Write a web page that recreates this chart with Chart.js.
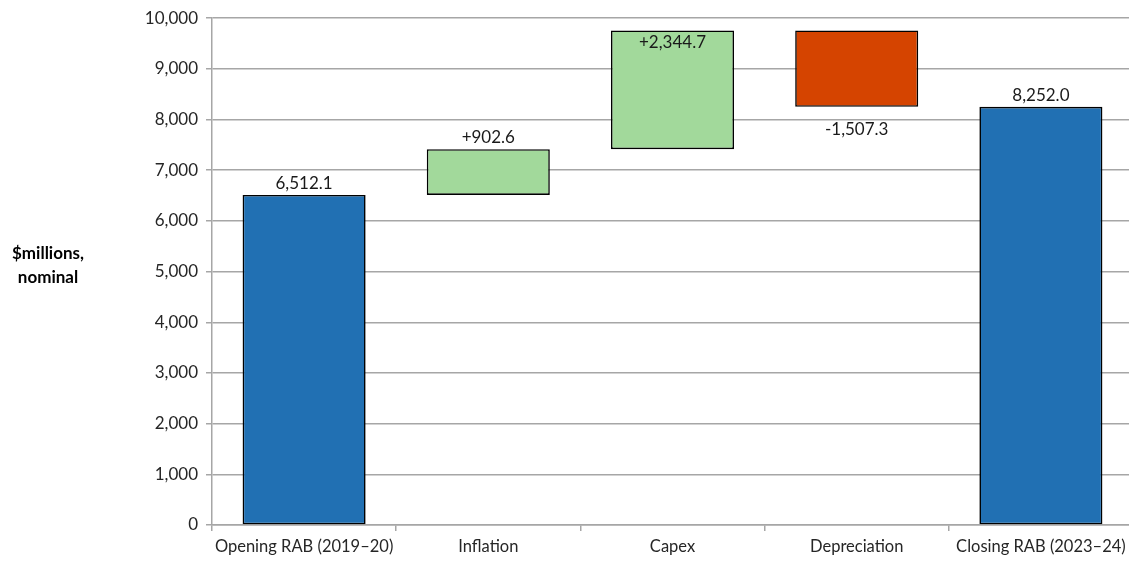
<!DOCTYPE html>
<html>
<head>
<meta charset="utf-8">
<script src="https://cdn.jsdelivr.net/npm/chart.js@4.4.1/dist/chart.umd.min.js"></script>
<style>
html,body{margin:0;padding:0;background:#fff;overflow:hidden;}
#wrap{width:1129px;height:561px;position:relative;overflow:hidden;}
</style>
</head>
<body>
<div id="wrap"><canvas id="c" width="1133" height="561"></canvas></div>
<script>
const categories = ['Opening RAB (2019\u201320)', 'Inflation', 'Capex', 'Depreciation', 'Closing RAB (2023\u201324)'];
const values = [6512.1, 902.6, 2344.7, -1507.3, 8252.0];
const kinds = ['total', 'change', 'change', 'change', 'total'];
const valueLabels = ['6,512.1', '+902.6', '+2,344.7', '-1,507.3', '8,252.0'];
const labelPlacement = ['above', 'above', 'inside', 'below', 'above'];
const yTicks = [0, 1000, 2000, 3000, 4000, 5000, 6000, 7000, 8000, 9000, 10000];
const yAxisTitle = ['$millions,', 'nominal'];

const colors = { total: '#2170b3', up: '#a2d99b', down: '#d54400' };

// build floating ranges from the values
let running = 0;
const ranges = values.map((v, i) => {
  if (kinds[i] === 'total') { running = v; return [0, v]; }
  const start = running; running += v;
  return [Math.min(start, running), Math.max(start, running)];
});
const fills = values.map((v, i) => kinds[i] === 'total' ? colors.total : (v >= 0 ? colors.up : colors.down));

const FONT = "Lato, 'Open Sans', 'Liberation Sans', sans-serif";

const labelPlugin = {
  id: 'labels',
  afterDatasetsDraw(chart) {
    const ctx = chart.ctx;
    const meta = chart.getDatasetMeta(0);
    ctx.save();
    ctx.font = '17px ' + FONT;
    ctx.fillStyle = '#1a1a1a';
    ctx.textAlign = 'center';
    meta.data.forEach((bar, i) => {
      const top = Math.min(bar.y, bar.base), bottom = Math.max(bar.y, bar.base);
      let y;
      if (labelPlacement[i] === 'above') { ctx.textBaseline = 'bottom'; y = top - 3; }
      else if (labelPlacement[i] === 'inside') { ctx.textBaseline = 'top'; y = top + 4; }
      else { ctx.textBaseline = 'top'; y = bottom + 14; }
      ctx.fillText(valueLabels[i], bar.x, y);
    });
    // y-axis title
    ctx.font = 'bold 17px ' + FONT;
    ctx.fillStyle = '#000';
    ctx.textBaseline = 'middle';
    ctx.fillText(yAxisTitle[0], 48, 254);
    ctx.fillText(yAxisTitle[1], 48, 278);
    ctx.restore();
  }
};

new Chart(document.getElementById('c'), {
  type: 'bar',
  data: {
    labels: categories,
    datasets: [{
      data: ranges,
      backgroundColor: fills,
      borderColor: '#000',
      borderWidth: 1.6,
      borderSkipped: false,
      barPercentage: 0.668,
      categoryPercentage: 1.0
    }]
  },
  options: {
    responsive: false,
    animation: false,
    devicePixelRatio: 1,
    layout: { padding: { top: 17, right: 0, left: 0, bottom: 0 } },
    plugins: { legend: { display: false }, tooltip: { enabled: false } },
    scales: {
      x: {
        offset: true,
        grid: { display: true, drawOnChartArea: false, offset: true, tickLength: 6, color: '#a6a6a6', lineWidth: 1.5 },
        border: { color: '#a6a6a6', width: 1.5 },
        ticks: { color: '#262626', font: { family: FONT, size: 16.5 }, padding: 6, maxRotation: 0, autoSkip: false },
        afterFit(s) { s.height = 36; s.paddingRight = 0; s.paddingLeft = 0; }
      },
      y: {
        min: 0, max: 10000,
        afterBuildTicks(s) { s.ticks = yTicks.map(v => ({ value: v })); },
        grid: { color: '#a6a6a6', lineWidth: 1.5, tickLength: 6 },
        border: { color: '#a6a6a6', width: 1.5 },
        ticks: { color: '#262626', font: { family: FONT, size: 17 }, padding: 8, autoSkip: false,
          callback: v => v.toLocaleString('en-US') },
        afterFit(s) { s.width = 212; }
      }
    }
  },
  plugins: [labelPlugin]
});
</script>
</body>
</html>
